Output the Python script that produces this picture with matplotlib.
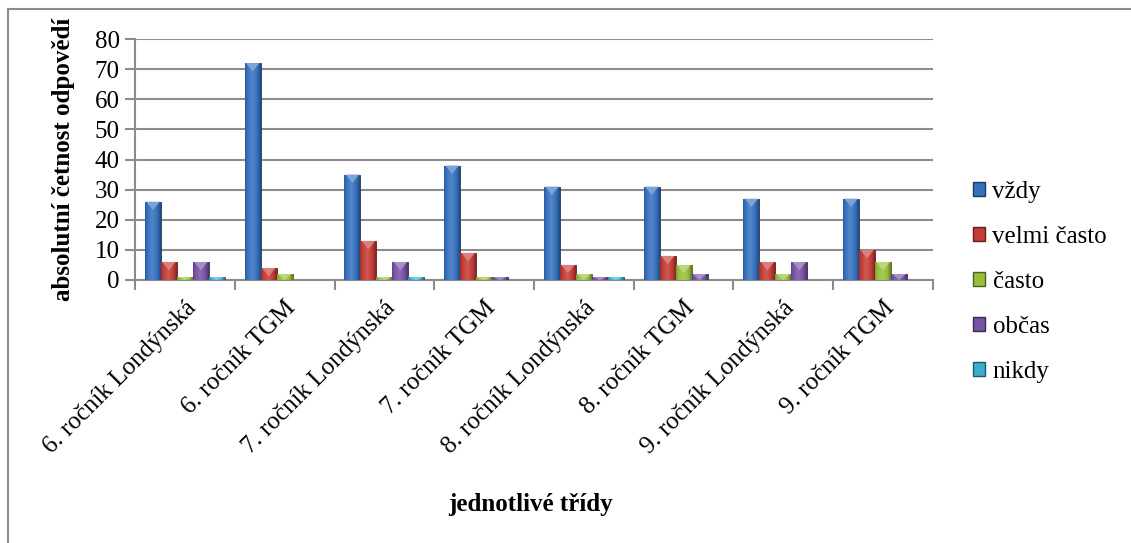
import numpy as np
import matplotlib
matplotlib.use('Agg')
from matplotlib import pyplot as plt
from matplotlib.patches import Rectangle, Polygon, Patch
from matplotlib.colors import to_rgb, LinearSegmentedColormap

plt.rcParams['font.family'] = 'serif'
plt.rcParams['font.serif'] = ['Liberation Serif', 'DejaVu Serif']

classes = ['6. ročník Londýnská', '6. ročník TGM', '7. ročník Londýnská', '7. ročník TGM',
           '8. ročník Londýnská', '8. ročník TGM', '9. ročník Londýnská', '9. ročník TGM']
answers = ['vždy', 'velmi často', 'často', 'občas', 'nikdy']

vzdy = [26, 72, 35, 38, 31, 31, 27, 27]
velmi_casto = [6, 4, 13, 9, 5, 8, 6, 10]
casto = [1, 2, 1, 1, 2, 5, 2, 6]
obcas = [6, 0, 6, 1, 1, 2, 6, 2]
nikdy = [1, 0, 1, 0, 1, 0, 0, 0]
series = [vzdy, velmi_casto, casto, obcas, nikdy]

colors = ['#3671be', '#c43c36', '#96bf3c', '#7653a4', '#3aaed0']
grid_gray = '#8c8c8c'


def shade(c, f):
    r, g, b = to_rgb(c)
    if f >= 0:
        return (r + (1 - r) * f, g + (1 - g) * f, b + (1 - b) * f)
    return (r * (1 + f), g * (1 + f), b * (1 + f))


fig = plt.figure(figsize=(11.31, 5.43), dpi=100)
ax = fig.add_axes([135 / 1131, 1 - 280 / 543, (933 - 135) / 1131, (280 - 39) / 543])

x = np.arange(len(classes))
w = 0.16
# horizontal gradient for the bevelled look
grad = np.linspace(0, 1, 64)
prof = 1 - np.abs(grad - 0.45) * 1.6

for i, vals in enumerate(series):
    base = colors[i]
    cmap = LinearSegmentedColormap.from_list(
        'b%d' % i, [shade(base, -0.45), base, shade(base, 0.15)])
    bars = ax.bar(x + (i - 2) * w, vals, w, color=base, edgecolor=shade(base, -0.5),
                  linewidth=0.6, zorder=3)
    for b, v in zip(bars, vals):
        if v <= 0:
            continue
        x0 = b.get_x()
        im = ax.imshow(prof[np.newaxis, :], cmap=cmap, aspect='auto',
                       extent=(x0, x0 + w, 0, v), zorder=3.1, vmin=0, vmax=1)
        im.set_clip_path(b)
        # lighter triangle on the top face
        d = min(2.8, v)
        tri = Polygon([(x0 + 0.08 * w, v), (x0 + 0.92 * w, v), (x0 + w / 2, v - d)],
                      closed=True, facecolor=shade(base, 0.35), edgecolor='none', zorder=3.2)
        ax.add_patch(tri)

ax.set_xlim(-0.5, len(classes) - 0.5)
ax.set_ylim(0, 80)
ax.set_yticks(range(0, 81, 10))
ax.yaxis.grid(True, color=grid_gray, linewidth=1.5, zorder=0)
ax.set_axisbelow(True)

ax.set_xticks(x)
ax.set_xticklabels(classes, rotation=45, ha='right', rotation_mode='anchor', fontsize=18)
ax.set_xticks(np.arange(-0.5, len(classes)), minor=True)
ax.tick_params(axis='x', which='major', length=0, pad=12)
ax.tick_params(axis='x', which='minor', length=7, color=grid_gray, width=1.5, direction='out')
ax.tick_params(axis='y', length=7, color=grid_gray, width=1.5, labelsize=18, pad=4)

for s in ['top', 'right']:
    ax.spines[s].set_visible(False)
for s in ['left', 'bottom']:
    ax.spines[s].set_color(grid_gray)
    ax.spines[s].set_linewidth(1.5)

ax.set_ylabel('absolutní četnost odpovědí', fontsize=18, fontweight='bold', labelpad=14)
fig.text(530 / 1131, 1 - 505 / 543, 'jednotlivé třídy', fontsize=18, fontweight='bold',
         ha='center', va='center')

handles = [Patch(facecolor=c, edgecolor=shade(c, -0.5)) for c in colors]
fig.legend(handles, answers, loc='center left', bbox_to_anchor=(960 / 1131, 1 - 282 / 543),
           frameon=False, fontsize=18, handlelength=0.5, handleheight=0.5,
           handletextpad=0.3, labelspacing=0.92, borderpad=0)

# chart frame
fig.patches.append(Rectangle((8 / 1131, -0.05), 1.2, 1 - 9 / 543 + 0.05, transform=fig.transFigure,
                             fill=False, edgecolor=grid_gray, linewidth=1.5))

plt.savefig('out.png', dpi=100)
